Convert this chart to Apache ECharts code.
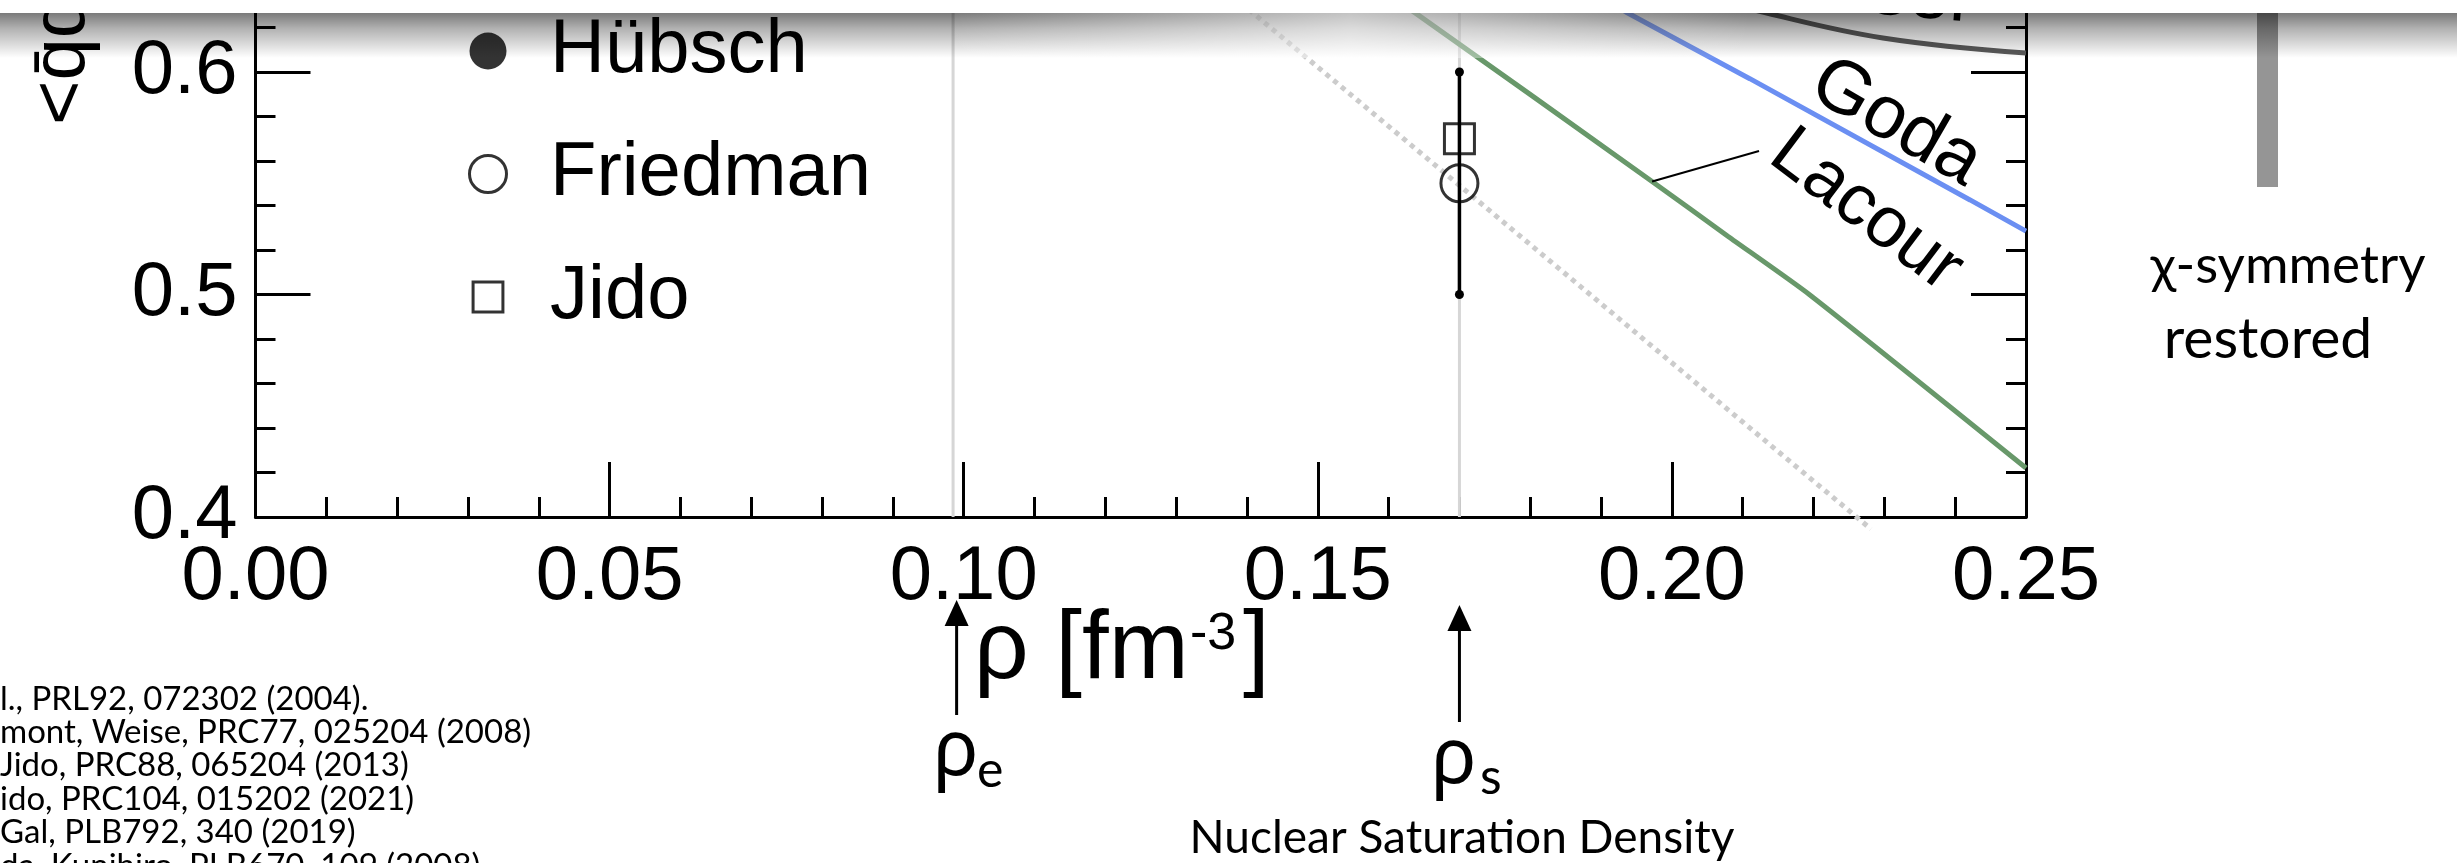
<!DOCTYPE html>
<html><head><meta charset="utf-8">
<script src="https://cdn.jsdelivr.net/npm/echarts@6/dist/echarts.min.js"></script>
<style>html,body{margin:0;padding:0;background:#fff;overflow:hidden}#c{width:2457px;height:863px}</style>
</head><body><div id="c"></div>
<script>
// ---- data ----
const lacourRho = [0.130, 0.164, 0.1972, 0.2079, 0.2194, 0.250];
const lacourVal = [0.700, 0.626, 0.5508, 0.5262, 0.500, 0.422];
const godaRho = [0.152, 0.1935, 0.211, 0.2421, 0.250];
const godaVal = [0.700, 0.627, 0.597, 0.5425, 0.5285];
const kaiserRho = [0.190, 0.200, 0.2134, 0.2298, 0.250];
const kaiserVal = [0.650, 0.638, 0.6265, 0.6153, 0.6085];
const linearRho = [0.1132, 0.2281];
const linearVal = [0.700, 0.3946];
const rhoE = 0.0985, rhoEArrow = 0.099, rhoS = 0.170;
const errRho = [0.170, 0.170];
const errVal = [0.500, 0.600];
const friedmanRho = [0.170], friedmanVal = [0.550];
const jidoRho = [0.170], jidoVal = [0.570];
const hubschRho = [], hubschVal = [];
const leaderRho = [0.1972, 0.2123];
const leaderVal = [0.5508, 0.5645];
const legendNames = ['Hübsch', 'Friedman', 'Jido'];
const references = [
  'l., PRL92, 072302 (2004).',
  'mont, Weise, PRC77, 025204 (2008)',
  'Jido, PRC88, 065204 (2013)',
  'ido, PRC104, 015202 (2021)',
  'Gal, PLB792, 340 (2019)',
  'da, Kunihiro, PLB670, 109 (2008)'
];

const zip = (a, b) => a.map((v, i) => [v, b[i]]);
const HELV = '"Liberation Sans", Arial, Helvetica, sans-serif';
const GILL = 'Lato, "Noto Sans", sans-serif';

const axisCommon = {
  axisLine: {onZero: false, lineStyle: {color: '#000', width: 3}},
  axisTick: {inside: true, length: 55, lineStyle: {color: '#000', width: 3}},
  minorTick: {show: true, splitNumber: 5, length: 20, lineStyle: {color: '#000', width: 3}},
  splitLine: {show: false},
  minorSplitLine: {show: false}
};

const chart = echarts.init(document.getElementById('c'), null, {renderer: 'canvas'});
const option = {
  animation: false,
  backgroundColor: '#ffffff',
  grid: {left: 255.5, right: 431, top: -150.5, bottom: 346, containLabel: false, outerBoundsMode: 'none'},
  xAxis: [Object.assign({
    type: 'value', min: 0, max: 0.25, interval: 0.05,
    axisLabel: {formatter: v => v.toFixed(2), fontSize: 76, fontFamily: HELV, color: '#000', margin: 23}
  }, axisCommon)],
  yAxis: [
    Object.assign({
      type: 'value', min: 0.4, max: 0.7, interval: 0.1, position: 'left',
      axisLabel: {formatter: v => v.toFixed(1), fontSize: 76, fontFamily: HELV, color: '#000', margin: 18}
    }, axisCommon),
    Object.assign({
      type: 'value', min: 0.4, max: 0.7, interval: 0.1, position: 'right',
      axisLabel: {show: false}
    }, axisCommon)
  ],
  legend: {
    orient: 'vertical', left: 463, top: 8,
    itemWidth: 114, itemHeight: 37, itemGap: 47,
    selectedMode: false,
    textStyle: {fontSize: 76, fontFamily: HELV, color: '#000'},
    data: [
      {name: legendNames[0], icon: 'circle', itemStyle: {color: '#000', borderWidth: 0}},
      {name: legendNames[1], icon: 'circle', itemStyle: {color: 'rgba(0,0,0,0)', borderColor: '#000', borderWidth: 3}},
      {name: legendNames[2], icon: 'path://M-1.2,-1.2M0,0H10V10H0ZM11.2,11.2', itemStyle: {color: 'rgba(0,0,0,0)', borderColor: '#000', borderWidth: 3}}
    ]
  },
  series: [
    {type: 'line', name: 'rhoE', silent: true, symbol: 'none', z: 1,
     data: [[rhoE, 0.4], [rhoE, 0.7]], lineStyle: {color: '#d6d6d6', width: 3}},
    {type: 'line', name: 'rhoS', silent: true, symbol: 'none', z: 1,
     data: [[rhoS, 0.4], [rhoS, 0.7]], lineStyle: {color: '#d6d6d6', width: 3}},
    {type: 'line', name: 'linear', silent: true, symbol: 'none', z: 2, clip: false,
     data: zip(linearRho, linearVal), lineStyle: {color: '#cccccc', width: 5, type: [5, 5]}},
    {type: 'line', name: 'Kaiser', silent: true, symbol: 'none', z: 3, smooth: 0.4,
     data: zip(kaiserRho, kaiserVal), lineStyle: {color: '#5a5a5a', width: 5}},
    {type: 'line', name: 'Goda', silent: true, symbol: 'none', z: 3,
     data: zip(godaRho, godaVal), lineStyle: {color: '#6b8ff2', width: 5}},
    {type: 'line', name: 'Lacour', silent: true, symbol: 'none', z: 3, smooth: 0.2,
     data: zip(lacourRho, lacourVal), lineStyle: {color: '#68986a', width: 5}},
    {type: 'line', name: 'leader', silent: true, symbol: 'none', z: 4,
     data: zip(leaderRho, leaderVal), lineStyle: {color: '#000', width: 2}},
    {type: 'line', name: 'errorbar', silent: true, symbol: 'circle', symbolSize: 9, z: 5,
     data: zip(errRho, errVal), lineStyle: {color: '#000', width: 3.5}, itemStyle: {color: '#000'}},
    {type: 'scatter', name: legendNames[1], silent: true, symbol: 'circle', symbolSize: 37, z: 6,
     data: zip(friedmanRho, friedmanVal),
     itemStyle: {color: 'rgba(0,0,0,0)', borderColor: '#000', borderWidth: 3}},
    {type: 'scatter', name: legendNames[2], silent: true, symbol: 'rect', symbolSize: 30, z: 6,
     data: zip(jidoRho, jidoVal),
     itemStyle: {color: 'rgba(0,0,0,0)', borderColor: '#000', borderWidth: 3}},
    {type: 'scatter', name: legendNames[0], silent: true, symbol: 'circle', symbolSize: 37, z: 6,
     data: zip(hubschRho, hubschVal), itemStyle: {color: '#000'}}
  ]
};
chart.setOption(option);

const xPix = v => chart.convertToPixel({xAxisIndex: 0}, v);
const txt = (text, x, y, font, align, extra) => Object.assign({
  type: 'text', x: x, y: y, z: 50,
  style: {text: text, font: font, fill: '#000', align: align || 'left', textAlign: align || 'left',
          verticalAlign: 'middle', textVerticalAlign: 'middle'}
}, extra || {});
const arrow = (x, tip, bottom) => [
  {type: 'line', z: 50, shape: {x1: x, y1: tip + 20, x2: x, y2: bottom}, style: {stroke: '#000', lineWidth: 3}},
  {type: 'polygon', z: 50, shape: {points: [[x, tip], [x - 12, tip + 26], [x + 12, tip + 26]]}, style: {fill: '#000'}}
];

const xe = xPix(rhoEArrow), xs = xPix(rhoS);
const deg = Math.PI / 180;
const elements = [];
// y axis title (rotated, cut at top)
elements.push(txt('<q\u0304q>', 63, 125, '76px ' + HELV, 'left', {rotation: 90 * deg}));
// x axis name
elements.push(txt('ρ [fm', 974, 652, '96px ' + HELV, 'left'));
elements.push(txt('-3', 1190, 635, '52px ' + HELV, 'left'));
elements.push(txt(']', 1243, 652, '96px ' + HELV, 'left'));
// arrows and density labels
arrow(xe, 600, 715).forEach(e => elements.push(e));
arrow(xs, 605, 722).forEach(e => elements.push(e));
elements.push(txt('ρ', 933, 753, '76px "Noto Sans", ' + GILL, 'left'));
elements.push(txt('e', 977, 771, '50px ' + GILL, 'left'));
elements.push(txt('ρ', 1431, 761, '76px "Noto Sans", ' + GILL, 'left'));
elements.push(txt('s', 1480, 778, '50px ' + GILL, 'left'));
elements.push(txt('Nuclear Saturation Density', 1462, 838, '46px ' + GILL, 'center'));
// curve labels
elements.push(txt('Goda', 1896, 123, '75px ' + HELV, 'center', {rotation: -30 * deg}));
elements.push(txt('Lacour', 1866, 211, '72px ' + HELV, 'center', {rotation: -37 * deg}));
elements.push(txt('Kaiser', 1869, -8, '75px ' + HELV, 'center', {rotation: -5 * deg}));
// right-side note
elements.push({type: 'rect', z: 40, shape: {x: 2257, y: 0, width: 21, height: 187}, style: {fill: '#959595'}});
elements.push(txt('χ-symmetry', 2288, 266, '53px ' + GILL, 'center'));
elements.push(txt('restored', 2268, 340, '57px ' + GILL, 'center'));
// references
references.forEach((r, i) => elements.push(txt(r, 0, 699 + 33.4 * i, '33px ' + GILL, 'left')));
// slide header shadow
elements.push({type: 'rect', z: 150, silent: true, shape: {x: 0, y: 13, width: 2457, height: 45},
  style: {fill: {type: 'linear', x: 0, y: 0, x2: 0, y2: 1, colorStops: [
    {offset: 0, color: 'rgba(0,0,0,0.52)'}, {offset: 0.35, color: 'rgba(0,0,0,0.30)'},
    {offset: 1, color: 'rgba(0,0,0,0)'}]}}});
elements.push({type: 'rect', z: 151, silent: true, shape: {x: 950, y: 13, width: 800, height: 45},
  style: {fill: {type: 'linear', x: 0, y: 0, x2: 1, y2: 0, colorStops: [
    {offset: 0, color: 'rgba(255,255,255,0)'}, {offset: 0.5, color: 'rgba(255,255,255,0.55)'},
    {offset: 1, color: 'rgba(255,255,255,0)'}]}}});
elements.push({type: 'rect', z: 160, silent: true, shape: {x: 0, y: 0, width: 2457, height: 13}, style: {fill: '#ffffff'}});

chart.setOption({graphic: {elements: elements}});
</script></body></html>
